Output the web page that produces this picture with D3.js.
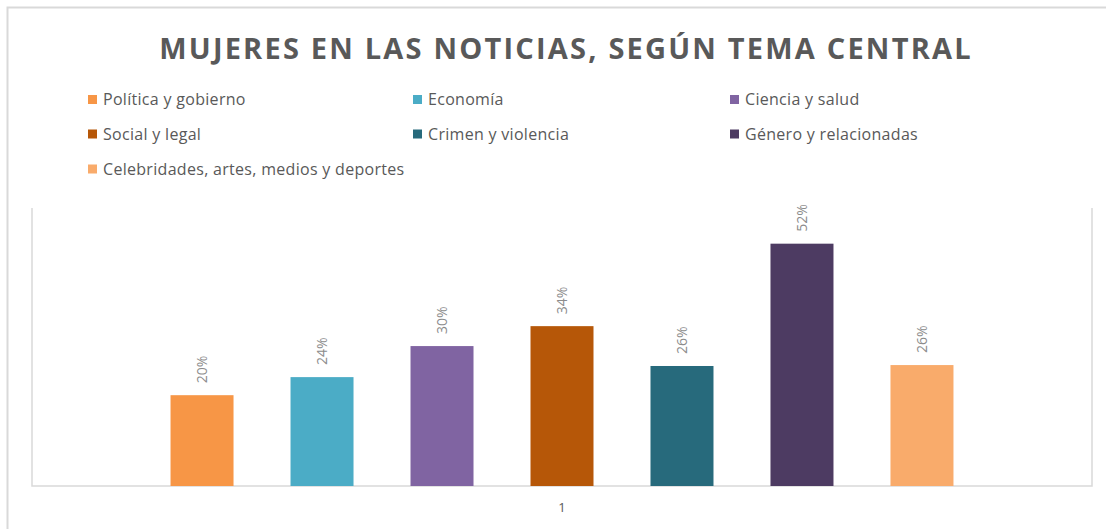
<!DOCTYPE html>
<html>
<head>
<meta charset="utf-8">
<script src="https://cdn.jsdelivr.net/npm/d3@7"></script>
<style>
  body { margin: 0; background: #fff; }
  svg { display: block; font-family: "Open Sans", sans-serif; }
</style>
</head>
<body>
<svg class="chart" width="1106" height="529"></svg>
<script>
// Mujeres en las noticias, segun tema central

// Data
var categories = ["1"];
var series = ["Política y gobierno", "Economía", "Ciencia y salud",
              "Social y legal", "Crimen y violencia", "Género y relacionadas",
              "Celebridades, artes, medios y deportes"];
var values = [0.196, 0.235, 0.302, 0.345, 0.259, 0.523, 0.261];
var labels = ["20%", "24%", "30%", "34%", "26%", "52%", "26%"];
var colors = ["#f79646", "#4bacc6", "#8064a2", "#b65708", "#276a7c", "#4d3b62", "#f9ab6b"];

var svg = d3.select(".chart");

// Outer chart border (only top and left visible in crop)
svg.append("path")
    .attr("d", "M7.5,529 V7.5 H1106")
    .attr("fill", "none")
    .attr("stroke", "#d9d9d9")
    .attr("stroke-width", 2);

// Title
svg.append("text")
    .attr("x", 566)
    .attr("y", 59)
    .attr("text-anchor", "middle")
    .style("font-size", "29px")
    .style("font-weight", "bold")
    .style("letter-spacing", "2.2px")
    .style("fill", "#595959")
    .text("MUJERES EN LAS NOTICIAS, SEGÚN TEMA CENTRAL");

// Legend, 3 columns
var legCols = [88, 413, 730];
var legRows = [99.5, 134, 169];
var legend = svg.append("g").attr("class", "legend")
    .selectAll("g")
    .data(series)
    .enter().append("g")
    .attr("transform", function(d, i) {
        return "translate(" + legCols[i % 3] + "," + legRows[Math.floor(i / 3)] + ")";
    });
legend.append("rect")
    .attr("x", 0)
    .attr("y", -4.5)
    .attr("width", 9)
    .attr("height", 9)
    .attr("fill", function(d, i) { return colors[i]; });
legend.append("text")
    .attr("x", 15)
    .attr("y", 0)
    .attr("dy", "0.35em")
    .style("font-size", "16px")
    .style("letter-spacing", "0.3px")
    .style("fill", "#595959")
    .text(function(d) { return d; });

// Plot area
var plot = { left: 32, right: 1092, top: 208, bottom: 486 };

var x0 = d3.scaleBand()
    .domain(categories)
    .range([plot.left, plot.right])
    .paddingOuter(0.131);

var x1 = d3.scaleBand()
    .domain(series)
    .range([0, x0.bandwidth()])
    .paddingInner(0.475)
    .paddingOuter(0.2375);

var y = d3.scaleLinear()
    .domain([0, 0.6])
    .range([plot.bottom, plot.top]);

// Plot area frame: left, bottom, right
svg.append("path")
    .attr("d", "M" + plot.left + "," + plot.top + " V" + plot.bottom +
               " H" + plot.right + " V" + plot.top)
    .attr("fill", "none")
    .attr("stroke", "#d9d9d9")
    .attr("stroke-width", 1.5);

// Bars
var group = svg.append("g")
    .attr("transform", "translate(" + x0("1") + ",0)");

group.selectAll("rect")
    .data(values)
    .enter().append("rect")
    .attr("x", function(d, i) { return x1(series[i]); })
    .attr("y", function(d) { return y(d); })
    .attr("width", x1.bandwidth())
    .attr("height", function(d) { return y(0) - y(d); })
    .attr("fill", function(d, i) { return colors[i]; });

// Rotated value labels
group.selectAll(".lbl")
    .data(values)
    .enter().append("text")
    .attr("class", "lbl")
    .attr("transform", function(d, i) {
        return "translate(" + (x1(series[i]) + x1.bandwidth() / 2) + "," + (y(d) - 12) + ") rotate(-90)";
    })
    .attr("dy", "0.35em")
    .style("font-size", "14px")
    .style("fill", "#8c8c8c")
    .text(function(d, i) { return labels[i]; });

// Category axis label
var xAxis = d3.axisBottom(x0).tickSize(0).tickPadding(17);
var ax = svg.append("g")
    .attr("transform", "translate(0," + plot.bottom + ")")
    .call(xAxis);
ax.select(".domain").remove();
ax.selectAll("text")
    .style("font-family", "Open Sans, sans-serif")
    .style("font-size", "13px")
    .style("fill", "#595959");
</script>
</body>
</html>
